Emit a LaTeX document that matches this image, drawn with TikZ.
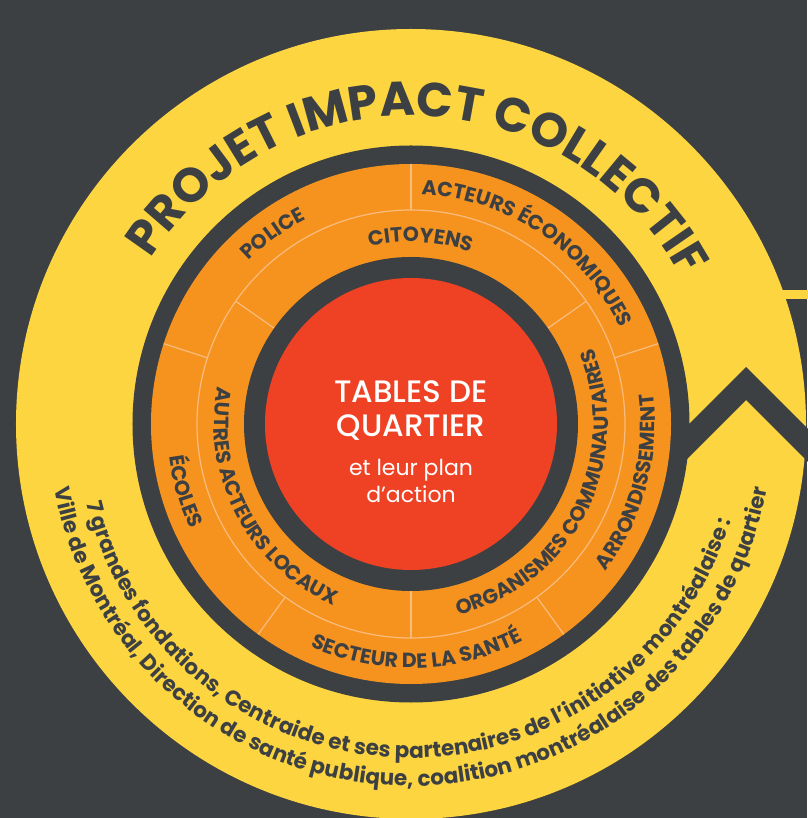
\documentclass[tikz,border=0pt]{standalone}
\usepackage{fontspec}
\setmainfont{Poppins}
\newfontfamily\coremed{Poppins Medium}
\usetikzlibrary{decorations.text}
\definecolor{bgdark}{HTML}{3C4043}
\definecolor{ringyellow}{HTML}{FDD540}
\definecolor{ringorange}{HTML}{F6931F}
\definecolor{corered}{HTML}{EF4123}
\definecolor{sepline}{HTML}{F9BC7E}
\newcommand\bandfont{\fontsize{20.5}{20.5}\selectfont\bfseries}
\newcommand\titlefont{\fontsize{48}{48}\selectfont\bfseries}
\newcommand\partfont{\fontsize{21.5}{21.5}\selectfont\bfseries}
% clockwise arc text (letters upright, tops outward)
\newcommand\cwtext[5]{\path[decorate,decoration={text along path,text align=center,text color=bgdark,text={|#4|#5}}] ({#1+#3}:#2) arc[start angle={#1+#3}, end angle={#1-#3}, radius=#2];}
% counter-clockwise arc text (tops toward centre)
\newcommand\ccwtext[5]{\path[decorate,decoration={text along path,text align=center,text color=bgdark,text={|#4|#5}}] ({#1-#3}:#2) arc[start angle={#1-#3}, end angle={#1+#3}, radius=#2];}
\begin{document}
\begin{tikzpicture}[x=1pt,y=1pt,
  sep/.style={draw=sepline, line width=1.2pt},
  coretitle/.style={text=white, anchor=base, inner sep=0pt, font=\fontsize{31}{31}\selectfont\coremed},
  coresub/.style={text=white, anchor=base, inner sep=0pt, font=\fontsize{22}{22}\selectfont}]
\useasboundingbox (-411,-394) rectangle (396,424);
\fill[bgdark] (-411,-394) rectangle (396,424);
% yellow outer disc, bar and chevron notch
\fill[ringyellow] (0,0) circle[radius=395];
\fill[ringyellow] (372,125) rectangle (400,134);
\fill[bgdark] (240,-38) -- (335,57) -- (450,-58) -- (450,-91) -- (335,24) -- (240,-71) -- cycle;
% rings
\fill[bgdark] (0,0) circle[radius=278.5];
\fill[ringorange] (0,0) circle[radius=260];
\draw[sep] (0,0) circle[radius=214];
\foreach \a in {18,90,162,234,306} \draw[sep] (\a:214) -- (\a:260);
\foreach \a in {35,145,270} \draw[sep] (\a:167) -- (\a:214);
\fill[bgdark] (0,0) circle[radius=167];
\fill[corered] (0,0) circle[radius=146];
% centre text
\node[coretitle] (t1) at (0,21) {TABLES DE};
\node[coretitle] (t2) at (0,-13) {QUARTIER};
\node[coresub] (t3) at (0,-52) {et leur plan};
\node[coresub] (t4) at (0,-79) {d’action};
% outer band labels
\cwtext{126}{230}{70}{\bandfont}{POLICE}
\cwtext{56}{230}{70}{\bandfont}{ACTEURS ÉCONOMIQUES}
\ccwtext{-15}{244}{70}{\bandfont}{ARRONDISSEMENT}
\ccwtext{271.5}{244}{70}{\bandfont}{SECTEUR DE LA SANTÉ}
\ccwtext{196.5}{244}{70}{\bandfont}{ÉCOLES}
% inner band labels
\cwtext{87}{182}{80}{\bandfont}{CITOYENS}
\ccwtext{-26.7}{197}{80}{\bandfont}{ORGANISMES COMMUNAUTAIRES}
\ccwtext{208}{197}{80}{\bandfont}{AUTRES ACTEURS LOCAUX}
% yellow ring texts
\cwtext{88}{308}{85}{\titlefont}{PROJET IMPACT COLLECTIF}
\ccwtext{268.5}{334}{110}{\partfont}{7 grandes fondations, Centraide et ses partenaires de l’initiative montréalaise :}
\ccwtext{270}{362}{110}{\partfont}{Ville de Montréal, Direction de santé publique, coalition montréalaise des tables de quartier}
\end{tikzpicture}
\end{document}
